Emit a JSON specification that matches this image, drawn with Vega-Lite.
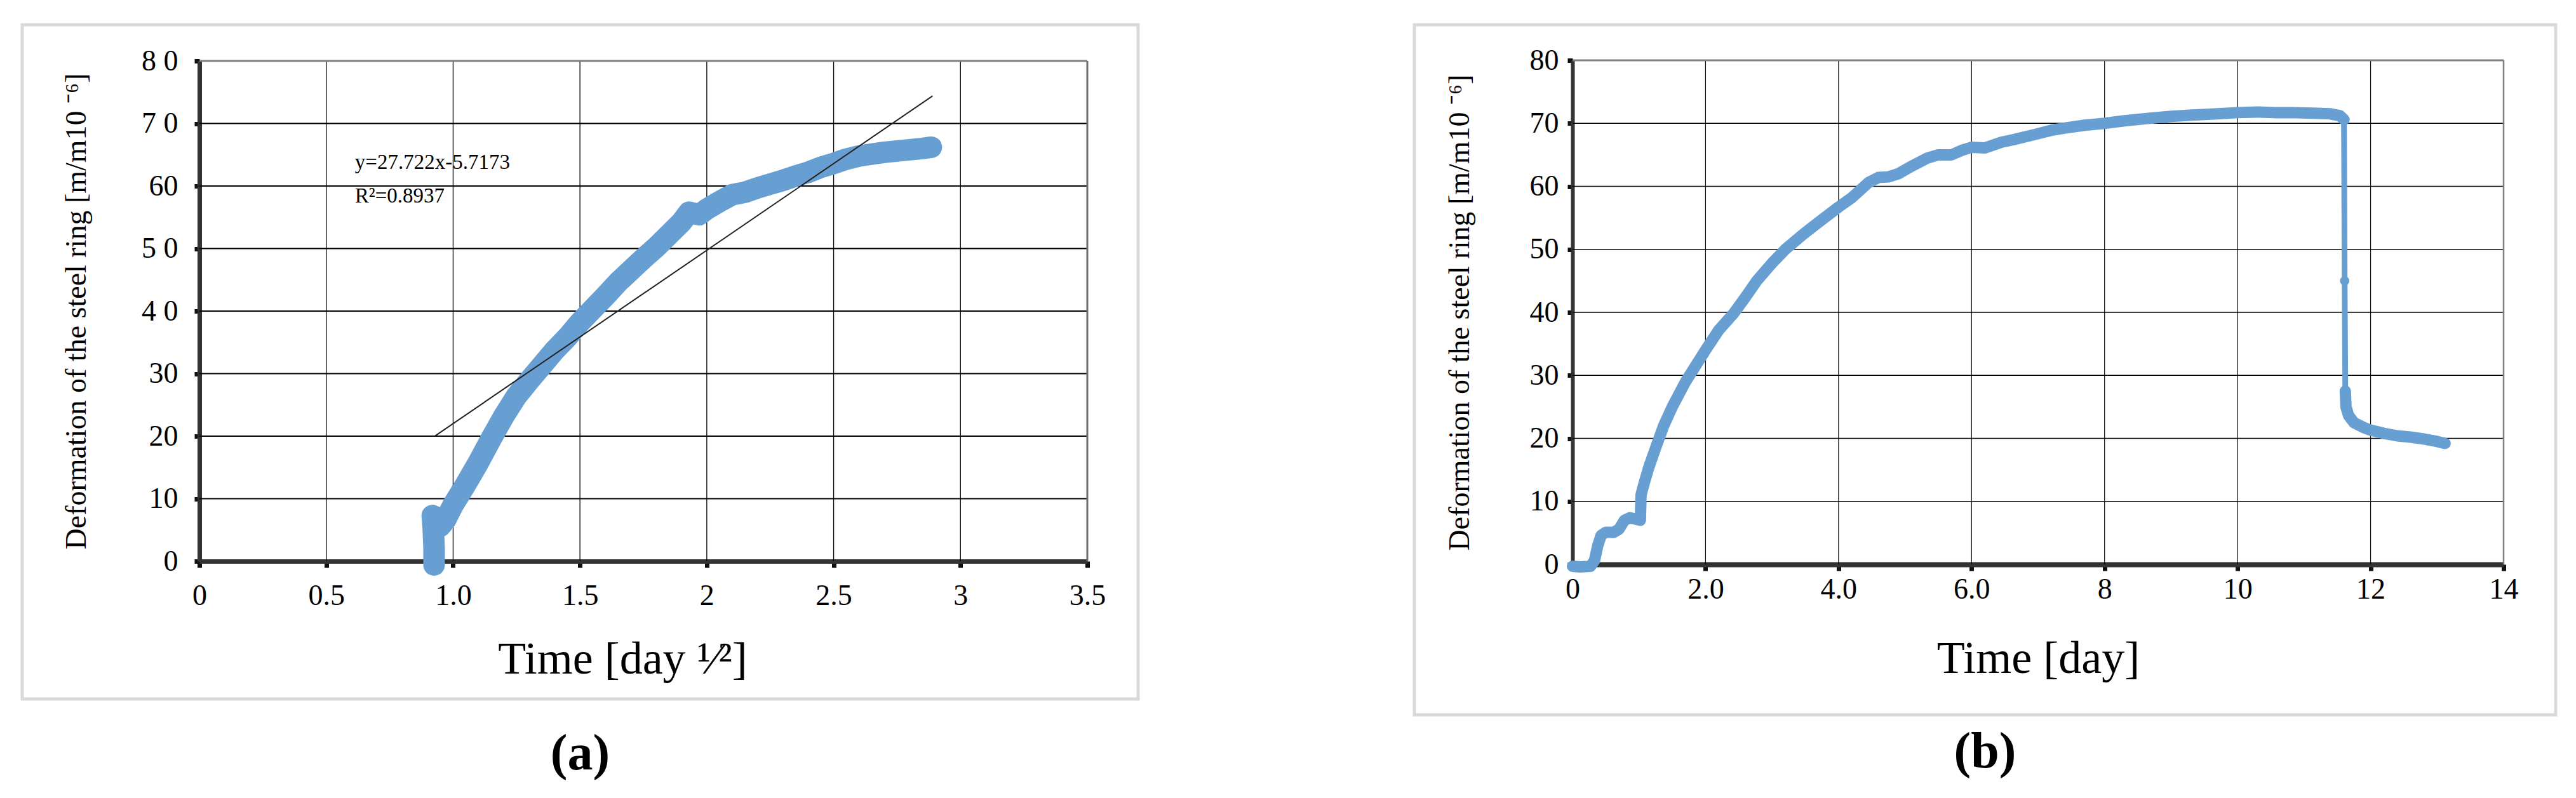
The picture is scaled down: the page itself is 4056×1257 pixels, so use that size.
{
  "$schema": "https://vega.github.io/schema/vega-lite/v6.json",
  "background": "white",
  "padding": {"left": 32, "top": 36, "right": 0, "bottom": 0},
  "spacing": 429,
  "config": {
    "view": {"stroke": "#d9d9d9", "strokeWidth": 5},
    "axis": {
      "labelFont": "Liberation Serif", "titleFont": "Liberation Serif",
      "labelColor": "#000", "titleColor": "#000", "titleFontWeight": "normal",
      "domainColor": "#333333", "tickColor": "#111111",
      "labelFlush": false, "labelOverlap": false, "grid": false,
      "labelFontSize": 46, "titleFontSize": 46, "zindex": 0
    }
  },
  "datasets": {
    "a_curve": [
      {"t": 0.925, "def": -0.6}, {"t": 0.925, "def": 2.0}, {"t": 0.922, "def": 5.0}, {"t": 0.918, "def": 7.3},
      {"t": 0.935, "def": 7.0}, {"t": 0.95, "def": 5.6}, {"t": 0.97, "def": 6.6}, {"t": 1.0, "def": 9.0},
      {"t": 1.05, "def": 12.3}, {"t": 1.1, "def": 15.8}, {"t": 1.15, "def": 19.6}, {"t": 1.2, "def": 23.2},
      {"t": 1.25, "def": 26.4}, {"t": 1.3, "def": 28.9}, {"t": 1.35, "def": 31.3}, {"t": 1.4, "def": 33.7},
      {"t": 1.45, "def": 35.8}, {"t": 1.5, "def": 38.2}, {"t": 1.55, "def": 40.3}, {"t": 1.6, "def": 42.4},
      {"t": 1.65, "def": 44.6}, {"t": 1.7, "def": 46.5}, {"t": 1.75, "def": 48.4}, {"t": 1.8, "def": 50.2},
      {"t": 1.85, "def": 52.2}, {"t": 1.9, "def": 54.2}, {"t": 1.93, "def": 55.8}, {"t": 1.97, "def": 55.4},
      {"t": 2.0, "def": 56.3}, {"t": 2.05, "def": 57.5}, {"t": 2.1, "def": 58.6}, {"t": 2.15, "def": 59.0},
      {"t": 2.2, "def": 59.7}, {"t": 2.25, "def": 60.3}, {"t": 2.3, "def": 60.9}, {"t": 2.35, "def": 61.6},
      {"t": 2.4, "def": 62.2}, {"t": 2.45, "def": 63.0}, {"t": 2.5, "def": 63.6}, {"t": 2.55, "def": 64.3},
      {"t": 2.6, "def": 64.8}, {"t": 2.65, "def": 65.1}, {"t": 2.7, "def": 65.4}, {"t": 2.75, "def": 65.6},
      {"t": 2.8, "def": 65.8}, {"t": 2.85, "def": 66.0}, {"t": 2.885, "def": 66.2}
    ],
    "a_fit": [{"t": 0.93, "def": 20.06}, {"t": 2.89, "def": 74.40}],
    "a_text": [
      {"t": 0.613, "def": 62.7, "label": "y=27.722x-5.7173"},
      {"t": 0.613, "def": 57.4, "label": "R²=0.8937"}
    ],
    "a_vgrid": [{"t": 0.5}, {"t": 1.0}, {"t": 1.5}, {"t": 2.0}, {"t": 2.5}, {"t": 3.0}],
    "b_vgrid": [{"t": 2}, {"t": 4}, {"t": 6}, {"t": 8}, {"t": 10}, {"t": 12}],
    "hgrid": [{"def": 10}, {"def": 20}, {"def": 30}, {"def": 40}, {"def": 50}, {"def": 60}, {"def": 70}],
    "b_curve": [
      {"t": 0.0, "def": -0.3, "seg": "1"}, {"t": 0.12, "def": -0.4, "seg": "1"}, {"t": 0.27, "def": -0.3, "seg": "1"},
      {"t": 0.33, "def": 0.6, "seg": "1"}, {"t": 0.38, "def": 3.0, "seg": "1"}, {"t": 0.43, "def": 4.6, "seg": "1"},
      {"t": 0.5, "def": 5.1, "seg": "1"}, {"t": 0.62, "def": 5.1, "seg": "1"}, {"t": 0.7, "def": 5.6, "seg": "1"},
      {"t": 0.78, "def": 7.0, "seg": "1"}, {"t": 0.86, "def": 7.4, "seg": "1"}, {"t": 0.94, "def": 7.2, "seg": "1"},
      {"t": 1.02, "def": 7.0, "seg": "1"}, {"t": 1.03, "def": 11.0, "seg": "1"}, {"t": 1.08, "def": 13.0, "seg": "1"},
      {"t": 1.15, "def": 15.5, "seg": "1"}, {"t": 1.25, "def": 18.5, "seg": "1"}, {"t": 1.37, "def": 22.0, "seg": "1"},
      {"t": 1.5, "def": 25.0, "seg": "1"}, {"t": 1.7, "def": 29.0, "seg": "1"}, {"t": 2.0, "def": 34.0, "seg": "1"},
      {"t": 2.2, "def": 37.2, "seg": "1"}, {"t": 2.42, "def": 39.8, "seg": "1"}, {"t": 2.6, "def": 42.4, "seg": "1"},
      {"t": 2.77, "def": 45.0, "seg": "1"}, {"t": 3.0, "def": 47.8, "seg": "1"}, {"t": 3.2, "def": 50.0, "seg": "1"},
      {"t": 3.47, "def": 52.4, "seg": "1"}, {"t": 3.7, "def": 54.3, "seg": "1"}, {"t": 4.0, "def": 56.7, "seg": "1"},
      {"t": 4.2, "def": 58.2, "seg": "1"}, {"t": 4.45, "def": 60.6, "seg": "1"}, {"t": 4.6, "def": 61.4, "seg": "1"},
      {"t": 4.75, "def": 61.5, "seg": "1"}, {"t": 4.9, "def": 62.0, "seg": "1"}, {"t": 5.1, "def": 63.2, "seg": "1"},
      {"t": 5.34, "def": 64.5, "seg": "1"}, {"t": 5.5, "def": 65.0, "seg": "1"}, {"t": 5.7, "def": 65.0, "seg": "1"},
      {"t": 5.85, "def": 65.7, "seg": "1"}, {"t": 6.0, "def": 66.2, "seg": "1"}, {"t": 6.2, "def": 66.1, "seg": "1"},
      {"t": 6.45, "def": 67.0, "seg": "1"}, {"t": 6.63, "def": 67.4, "seg": "1"}, {"t": 6.98, "def": 68.3, "seg": "1"},
      {"t": 7.2, "def": 68.9, "seg": "1"}, {"t": 7.44, "def": 69.3, "seg": "1"}, {"t": 7.7, "def": 69.7, "seg": "1"},
      {"t": 8.0, "def": 70.0, "seg": "1"}, {"t": 8.3, "def": 70.4, "seg": "1"}, {"t": 8.68, "def": 70.8, "seg": "1"},
      {"t": 9.0, "def": 71.1, "seg": "1"}, {"t": 9.32, "def": 71.3, "seg": "1"}, {"t": 9.7, "def": 71.5, "seg": "1"},
      {"t": 10.0, "def": 71.7, "seg": "1"}, {"t": 10.3, "def": 71.8, "seg": "1"}, {"t": 10.55, "def": 71.7, "seg": "1"},
      {"t": 10.8, "def": 71.7, "seg": "1"}, {"t": 11.13, "def": 71.6, "seg": "1"}, {"t": 11.4, "def": 71.5, "seg": "1"},
      {"t": 11.54, "def": 71.2, "seg": "1"}, {"t": 11.6, "def": 70.6, "seg": "1"},
      {"t": 11.61, "def": 45.0, "seg": "drop"},
      {"t": 11.62, "def": 27.5, "seg": "2"}, {"t": 11.63, "def": 25.0, "seg": "2"}, {"t": 11.67, "def": 23.6, "seg": "2"},
      {"t": 11.75, "def": 22.5, "seg": "2"}, {"t": 11.9, "def": 21.7, "seg": "2"}, {"t": 12.0, "def": 21.3, "seg": "2"},
      {"t": 12.2, "def": 20.8, "seg": "2"}, {"t": 12.4, "def": 20.4, "seg": "2"}, {"t": 12.6, "def": 20.2, "seg": "2"},
      {"t": 12.8, "def": 19.9, "seg": "2"}, {"t": 13.0, "def": 19.5, "seg": "2"}, {"t": 13.12, "def": 19.2, "seg": "2"}
    ]
  },
  "hconcat": [
    {
      "width": 1757,
      "height": 1062,
      "title": {"text": "(a)", "orient": "bottom", "anchor": "middle", "font": "Liberation Serif", "fontSize": 80, "fontWeight": "bold", "color": "#000", "offset": 48},
      "layer": [
        {
          "data": {"name": "a_vgrid"},
          "mark": {"type": "rule", "color": "#000", "strokeWidth": 1.3},
          "encoding": {
            "x": {
              "field": "t", "type": "quantitative",
              "scale": {"domain": [0, 3.5], "range": [279, 1677], "nice": false, "zero": false},
              "axis": {
                "offset": -217, "values": [0, 0.5, 1, 1.5, 2, 2.5, 3, 3.5],
                "labelExpr": "datum.value == 1 ? '1.0' : '' + datum.value",
                "domainWidth": 7, "tickWidth": 7, "tickSize": 10, "labelPadding": 22,
                "title": "Time [day ¹⁄²]", "titleFontSize": 72, "titlePadding": 42, "titleX": 945
              }
            },
            "y": {
              "datum": 0, "type": "quantitative",
              "scale": {"domain": [0, 80], "range": [845, 57], "nice": false, "zero": false},
              "axis": {
                "offset": -279, "values": [0, 10, 20, 30, 40, 50, 60, 70, 80],
                "labelExpr": "datum.value == 80 ? '8 0' : datum.value == 70 ? '7 0' : datum.value == 50 ? '5 0' : datum.value == 40 ? '4 0' : '' + datum.value",
                "domainWidth": 7, "tickWidth": 7, "tickSize": 8, "labelPadding": 26,
                "title": "Deformation of the steel ring [m/m10 ⁻⁶]", "titlePadding": 78
              }
            },
            "y2": {"datum": 80}
          }
        },
        {
          "data": {"name": "hgrid"},
          "mark": {"type": "rule", "color": "#000", "strokeWidth": 1.8},
          "encoding": {
            "y": {"field": "def", "type": "quantitative"},
            "x": {"datum": 0, "type": "quantitative"},
            "x2": {"datum": 3.5}
          }
        },
        {
          "data": {"values": [{}]},
          "mark": {"type": "rule", "color": "#7f7f7f", "strokeWidth": 3},
          "encoding": {
            "y": {"datum": 80, "type": "quantitative"},
            "x": {"datum": 0, "type": "quantitative"},
            "x2": {"datum": 3.5}
          }
        },
        {
          "data": {"values": [{}]},
          "mark": {"type": "rule", "color": "#6e6e6e", "strokeWidth": 3},
          "encoding": {
            "x": {"datum": 3.5, "type": "quantitative"},
            "y": {"datum": 0, "type": "quantitative"},
            "y2": {"datum": 80}
          }
        },
        {
          "data": {"name": "a_curve"},
          "mark": {"type": "line", "color": "#689fd3", "strokeWidth": 34, "strokeCap": "round", "strokeJoin": "round"},
          "encoding": {
            "x": {"field": "t", "type": "quantitative"},
            "y": {"field": "def", "type": "quantitative"},
            "order": {"value": null}
          }
        },
        {
          "data": {"name": "a_fit"},
          "mark": {"type": "line", "color": "#222222", "strokeWidth": 2},
          "encoding": {
            "x": {"field": "t", "type": "quantitative"},
            "y": {"field": "def", "type": "quantitative"}
          }
        },
        {
          "data": {"name": "a_text"},
          "mark": {"type": "text", "font": "Liberation Serif", "fontSize": 33, "align": "left", "baseline": "alphabetic", "color": "#000"},
          "encoding": {
            "x": {"field": "t", "type": "quantitative"},
            "y": {"field": "def", "type": "quantitative"},
            "text": {"field": "label"}
          }
        }
      ]
    },
    {
      "width": 1797,
      "height": 1087,
      "title": {"text": "(b)", "orient": "bottom", "anchor": "middle", "font": "Liberation Serif", "fontSize": 80, "fontWeight": "bold", "color": "#000", "offset": 20},
      "layer": [
        {
          "data": {"name": "b_vgrid"},
          "mark": {"type": "rule", "color": "#000", "strokeWidth": 1.2},
          "encoding": {
            "x": {
              "field": "t", "type": "quantitative",
              "scale": {"domain": [0, 14], "range": [249, 1715], "nice": false, "zero": false},
              "axis": {
                "offset": -237, "values": [0, 2, 4, 6, 8, 10, 12, 14],
                "labelExpr": "datum.value == 2 ? '2.0' : datum.value == 4 ? '4.0' : datum.value == 6 ? '6.0' : '' + datum.value",
                "domainWidth": 8, "tickWidth": 7, "tickSize": 10, "labelPadding": 7, "labelDx": 18,
                "title": "Time [day]", "titleFontSize": 72, "titlePadding": 51
              }
            },
            "y": {
              "datum": 0, "type": "quantitative",
              "scale": {"domain": [0, 80], "range": [850, 56], "nice": false, "zero": false},
              "axis": {
                "offset": -249, "values": [0, 10, 20, 30, 40, 50, 60, 70, 80],
                "labelExpr": "'' + datum.value",
                "domainWidth": 6, "tickWidth": 7, "tickSize": 8, "labelPadding": 14,
                "title": "Deformation of the steel ring [m/m10 ⁻⁶]", "titlePadding": 86
              }
            },
            "y2": {"datum": 80}
          }
        },
        {
          "data": {"name": "hgrid"},
          "mark": {"type": "rule", "color": "#000", "strokeWidth": 1.6},
          "encoding": {
            "y": {"field": "def", "type": "quantitative"},
            "x": {"datum": 0, "type": "quantitative"},
            "x2": {"datum": 14}
          }
        },
        {
          "data": {"values": [{}]},
          "mark": {"type": "rule", "color": "#7f7f7f", "strokeWidth": 3},
          "encoding": {
            "y": {"datum": 80, "type": "quantitative"},
            "x": {"datum": 0, "type": "quantitative"},
            "x2": {"datum": 14}
          }
        },
        {
          "data": {"values": [{}]},
          "mark": {"type": "rule", "color": "#7f7f7f", "strokeWidth": 2.5},
          "encoding": {
            "x": {"datum": 14, "type": "quantitative"},
            "y": {"datum": 0, "type": "quantitative"},
            "y2": {"datum": 80}
          }
        },
        {
          "data": {"name": "b_curve"},
          "mark": {"type": "line", "color": "#689fd3", "strokeWidth": 9, "strokeJoin": "round"},
          "encoding": {
            "x": {"field": "t", "type": "quantitative"},
            "y": {"field": "def", "type": "quantitative"},
            "order": {"value": null}
          }
        },
        {
          "data": {"name": "b_curve"},
          "transform": [{"filter": "datum.seg != 'drop'"}],
          "mark": {"type": "line", "color": "#689fd3", "strokeWidth": 18, "strokeCap": "round", "strokeJoin": "round"},
          "encoding": {
            "x": {"field": "t", "type": "quantitative"},
            "y": {"field": "def", "type": "quantitative"},
            "detail": {"field": "seg"},
            "order": {"value": null}
          }
        },
        {
          "data": {"name": "b_curve"},
          "transform": [{"filter": "datum.seg == 'drop'"}],
          "mark": {"type": "point", "filled": true, "color": "#689fd3", "size": 220, "opacity": 1},
          "encoding": {
            "x": {"field": "t", "type": "quantitative"},
            "y": {"field": "def", "type": "quantitative"}
          }
        }
      ]
    }
  ]
}
